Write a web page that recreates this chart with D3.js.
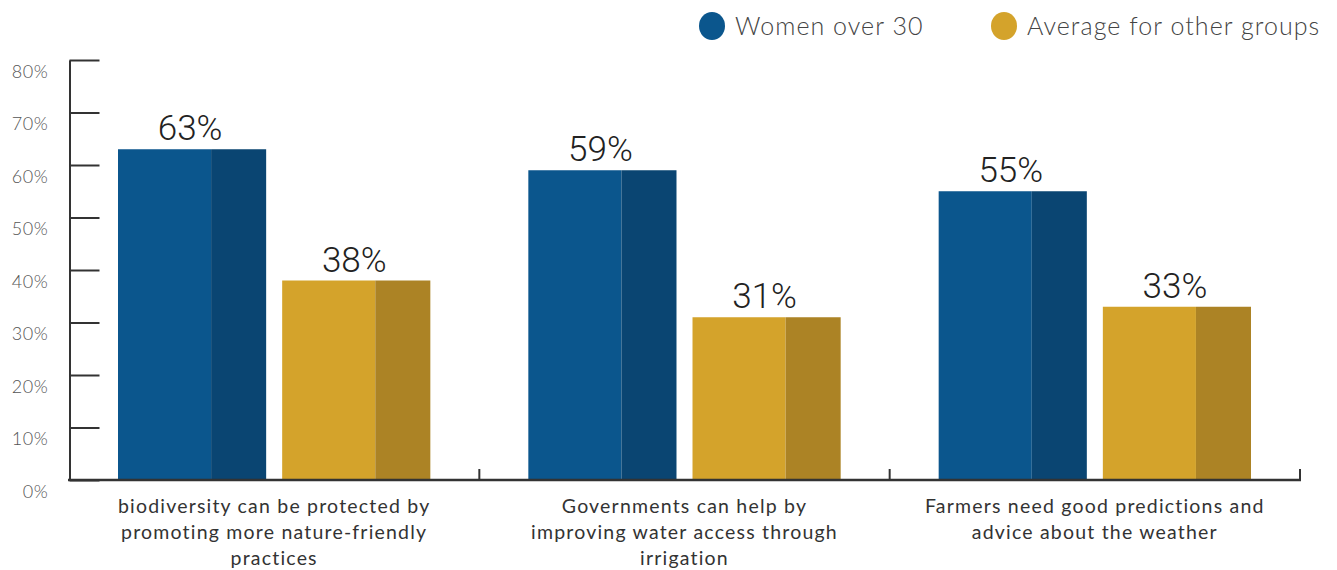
<!DOCTYPE html>
<html><head><meta charset="utf-8">
<script src="https://cdn.jsdelivr.net/npm/d3@7"></script>
<style>
body{margin:0;background:#fff;}
svg{display:block;}
</style></head>
<body>
<svg id="chart" width="1337" height="570"></svg>
<script>
const categories = [
  ["biodiversity can be protected by","promoting more nature-friendly","practices"],
  ["Governments can help by","improving water access through","irrigation"],
  ["Farmers need good predictions and","advice about the weather"]
];
const seriesNames = ["Women over 30","Average for other groups"];
const women = [63, 59, 55];
const others = [38, 31, 33];
const yTicks = [0,10,20,30,40,50,60,70,80];

const lightColors = ["#0b568d","#d4a32b"];
const darkColors = ["#0a4572","#ac8325"];

const svg = d3.select("#chart");
const catIdx = categories.map((d,i)=>i);

const x = d3.scaleBand().domain(catIdx).range([69,1300]).padding(0);
const xs = d3.scaleBand().domain([0,1]).range([49, x.bandwidth()-49]).paddingInner(16/164).paddingOuter(0);
const y = d3.scaleLinear().domain([0,80]).range([480,60]);

const data = catIdx.map(i => [women[i], others[i]]);

// bars
const g = svg.append("g");
catIdx.forEach(i => {
  data[i].forEach((v, s) => {
    const bx = x(i) + xs(s);
    const bw = xs.bandwidth();
    const darkW = bw * 55/148;
    g.append("rect").attr("x", bx).attr("y", y(v)).attr("width", bw - darkW).attr("height", y(0)-y(v)).attr("fill", lightColors[s]);
    g.append("rect").attr("x", bx + bw - darkW).attr("y", y(v)).attr("width", darkW).attr("height", y(0)-y(v)).attr("fill", darkColors[s]);
    g.append("text").attr("x", bx + bw/2 - 2).attr("y", y(v) - 9)
      .attr("text-anchor","middle").attr("font-family","Roboto, 'Liberation Sans', sans-serif")
      .attr("font-weight",300)
      .attr("font-size", 35).attr("fill","#222").text(v + "%");
  });
});

// y axis
const yAxis = d3.axisLeft(y).tickValues(yTicks).tickFormat(d => d + "%").tickSize(-30).tickSizeOuter(0).tickPadding(21);
const ya = svg.append("g").attr("transform","translate(69.5,0)").call(yAxis);
ya.select(".domain").attr("stroke","#333").attr("stroke-width",2);
ya.selectAll(".tick line").attr("stroke","#333").attr("stroke-width",2);
ya.selectAll(".tick text").attr("font-family","Lato, sans-serif").attr("font-weight",300)
  .attr("font-size",18).attr("letter-spacing",0.6).attr("fill","#555").attr("dy","0.95em");

// x axis
const xa = svg.append("g");
xa.append("line").attr("x1",68).attr("x2",x.range()[1]+1).attr("y1",y(0)).attr("y2",y(0))
  .attr("stroke","#333").attr("stroke-width",2.5);
catIdx.forEach(i => {
  const tx = x(i) + x.bandwidth();
  xa.append("line").attr("x1",tx).attr("x2",tx).attr("y1",y(0)).attr("y2",y(0)-11)
    .attr("stroke","#333").attr("stroke-width",2);
  const t = xa.append("text").attr("text-anchor","middle").attr("font-family","Lato, sans-serif")
    .attr("font-size",19.5).attr("letter-spacing",1.2).attr("fill","#333");
  categories[i].forEach((line, li) => {
    t.append("tspan").attr("x", x(i) + x.bandwidth()/2).attr("y", 513 + li*26).text(line);
  });
});

// legend
const legend = svg.append("g");
const legX = [712, 1004];
seriesNames.forEach((n, s) => {
  legend.append("ellipse").attr("cx", legX[s]).attr("cy", 26).attr("rx", 13).attr("ry", 14).attr("fill", lightColors[s]);
  legend.append("text").attr("x", legX[s] + 23).attr("y", 35).attr("font-family","Lato, sans-serif")
    .attr("font-weight",300).attr("font-size",25).attr("letter-spacing",1.05).attr("fill","#444").text(n);
});
</script>
</body></html>
